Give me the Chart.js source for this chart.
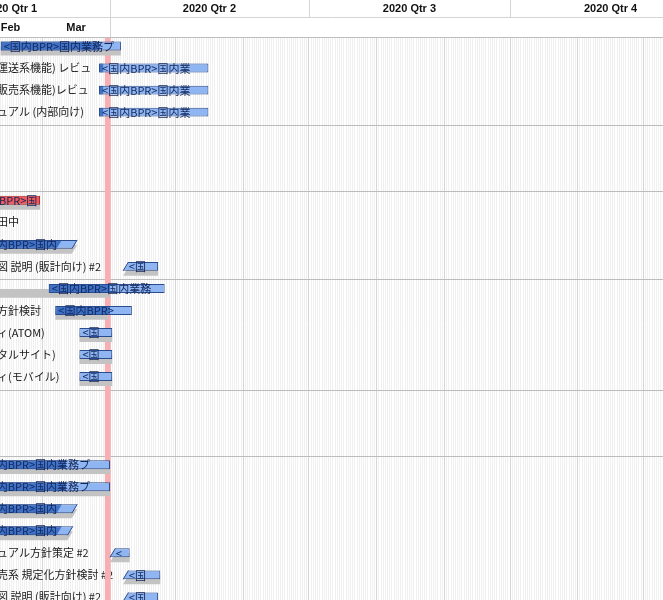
<!DOCTYPE html>
<html><head><meta charset="utf-8">
<script src="https://cdn.jsdelivr.net/npm/chart.js@4.4.1/dist/chart.umd.min.js"></script>
<style>html,body{margin:0;padding:0;overflow:hidden;background:#fff}#wrap{width:663px;height:616px;position:relative}</style>
</head><body><div id="wrap"><canvas id="c"></canvas></div>
<script>
// ---------- data ----------
const rowNames = [
  '', '運送系機能) レビュ', '販売系機能)レビュ', 'ュアル (内部向け)', '', '', '',
  '', '田中', '', '図 説明 (販計向け) #2',
  '', '方針検討', 'ィ(ATOM)', 'タルサイト)', 'ィ(モバイル)',
  '', '', '',
  '', '', '', '', 'ュアル方針策定 #2', '売系 規定化方針検討 #2', '図 説明 (販計向け) #2'
];
const taskStart = [
  '2020-02-11', '2020-03-27', '2020-03-27', '2020-03-27', null, null, null,
  '2020-01-27', null, '2020-01-31', '2020-04-07',
  '2020-03-04', '2020-03-07', '2020-03-18', '2020-03-18', '2020-03-18',
  null, null, null,
  '2020-01-31', '2020-01-31', '2020-01-31', '2020-01-31', '2020-04-01', '2020-04-07', '2020-04-07'
];
const taskEnd = [
  '2020-04-06', '2020-05-16', '2020-05-16', '2020-05-16', null, null, null,
  '2020-02-29', null, '2020-03-17', '2020-04-23',
  '2020-04-26', '2020-04-11', '2020-04-02', '2020-04-02', '2020-04-02',
  null, null, null,
  '2020-04-01', '2020-04-01', '2020-03-17', '2020-03-15', '2020-04-10', '2020-04-24', '2020-04-23'
];
const progressEnd = [
  '2020-03-27', '2020-03-29', '2020-03-29', '2020-03-29', null, null, null,
  null, null, '2020-03-10', null,
  '2020-04-01', '2020-04-01', null, null, null,
  null, null, null,
  '2020-03-12', '2020-03-12', '2020-03-10', '2020-03-10', null, null, null
];
const baseStart = [
  '2020-02-11', null, null, null, null, null, null,
  '2020-01-27', null, '2020-01-31', '2020-04-07',
  '2020-01-31', '2020-03-07', '2020-03-18', '2020-03-18', '2020-03-18',
  null, null, null,
  '2020-01-31', '2020-01-31', '2020-01-31', '2020-01-31', '2020-04-01', '2020-04-07', '2020-04-07'
];
const baseEnd = [
  '2020-04-06', null, null, null, null, null, null,
  '2020-02-29', null, '2020-03-17', '2020-04-23',
  '2020-04-01', '2020-03-31', '2020-04-02', '2020-04-02', '2020-04-02',
  null, null, null,
  '2020-04-01', '2020-04-01', '2020-03-17', '2020-03-15', '2020-04-10', '2020-04-24', '2020-04-23'
];
// 'end' = task continues after this bar, 'start' = task continued from before
const splitSide = [
  '', '', '', '', '', '', '',
  '', '', 'end', 'start',
  '', '', '', '', '',
  '', '', '',
  '', '', 'end', 'end', 'start', 'start', 'start'
];
const taskStatus = [
  'ok','ok','ok','ok','','','',
  'late','','ok','ok',
  'ok','ok','ok','ok','ok',
  '','','',
  'ok','ok','ok','ok','ok','ok','ok'
];
const barLabels = [
  '<国内BPR>国内業務プ', '<国内BPR>国内業', '<国内BPR>国内業', '<国内BPR>国内業', '', '', '',
  '<国内BPR>国', '', '<国内BPR>国内', '<国',
  '<国内BPR>国内業務', '<国内BPR>', '<国', '<国', '<国',
  '', '', '',
  '<国内BPR>国内業務プ', '<国内BPR>国内業務プ', '<国内BPR>国内', '<国内BPR>国内', '<', '<国', '<国'
];
const groupStartRows = [4, 7, 11, 16, 19];
const quarterLabels = ['2020 Qtr 1', '2020 Qtr 2', '2020 Qtr 3', '2020 Qtr 4'];
const quarterStarts = ['2020-01-01', '2020-04-01', '2020-07-01', '2020-10-01', '2021-01-01'];
const monthLabels = ['Feb', 'Mar'];
const monthStarts = ['2020-02-01', '2020-03-01', '2020-04-01'];
const todayDate = '2020-03-31';
const viewMin = 40.68, viewMax = 343.98; // days since 2020-01-01

// ---------- helpers ----------
const DAY0 = Date.UTC(2020, 0, 1);
function toDay(s) { const p = s.split('-').map(Number); return (Date.UTC(p[0], p[1] - 1, p[2]) - DAY0) / 864e5; }
function isMonthStart(d) { return new Date(DAY0 + d * 864e5).getUTCDate() === 1; }
const span = (a, b) => a.map((s, i) => (s && b[i]) ? [toDay(s), toDay(b[i])] : null);
const taskData = span(taskStart, taskEnd);
const progressData = span(taskStart, progressEnd);
const baseData = span(baseStart, baseEnd);
const dayTicks = [];
for (let d = Math.ceil(viewMin); d <= Math.floor(viewMax); d++) dayTicks.push(d);

const NAVY = '#2b4c8c';
const SLOPE = 0.6; // horizontal px per vertical px on split ends

function slantGeom(el) {
  const p = el.getProps(['x', 'base', 'y', 'height'], true);
  return { l: Math.min(p.x, p.base), r: Math.max(p.x, p.base), t: p.y - p.height / 2, b: p.y + p.height / 2, h: p.height, y: p.y };
}
const slantPlugin = {
  id: 'slant',
  beforeDatasetDraw(chart, args) {
    const {ctx, chartArea: a} = chart;
    const data = chart.data.datasets[args.index].data;
    ctx.save();
    ctx.beginPath();
    ctx.rect(a.left - 50, a.top - 50, a.right - a.left + 100, a.bottom - a.top + 100);
    args.meta.data.forEach((el, i) => {
      if (!data[i] || !splitSide[i]) return;
      const g = slantGeom(el); const t = g.t - 1, b = g.b + 1;
      if (splitSide[i] === 'end') {
        const xt = g.r + SLOPE * (g.t - t), xb = g.r - SLOPE * (b - g.t);
        ctx.moveTo(xt, t); ctx.lineTo(g.r + 30, t); ctx.lineTo(g.r + 30, b); ctx.lineTo(xb, b); ctx.closePath();
      } else {
        const xt = g.l + SLOPE * (b - t) - SLOPE * (b - g.b), xb = g.l - SLOPE * (b - g.b);
        ctx.moveTo(g.l - 30, t); ctx.lineTo(xt, t); ctx.lineTo(xb, b); ctx.lineTo(g.l - 30, b); ctx.closePath();
      }
    });
    ctx.clip('evenodd');
  },
  afterDatasetDraw(chart, args) {
    const {ctx} = chart;
    ctx.restore();
    if (args.index !== 1) return;
    const data = chart.data.datasets[1].data;
    ctx.save(); ctx.strokeStyle = NAVY; ctx.lineWidth = 1;
    args.meta.data.forEach((el, i) => {
      if (!data[i] || !splitSide[i]) return;
      const g = slantGeom(el);
      ctx.beginPath();
      if (splitSide[i] === 'end') { ctx.moveTo(g.r, g.t); ctx.lineTo(g.r - SLOPE * g.h, g.b); }
      else { ctx.moveTo(g.l, g.b); ctx.lineTo(g.l + SLOPE * g.h, g.t); }
      ctx.stroke();
    });
    ctx.restore();
  }
};
const todayPlugin = {
  id: 'today',
  beforeDatasetsDraw(chart) {
    const {ctx, chartArea: a, scales: {x}} = chart;
    const px = x.getPixelForValue(toDay(todayDate));
    ctx.save(); ctx.fillStyle = '#f6b0b4';
    ctx.fillRect(px - 3, a.top, 6, a.bottom - a.top); ctx.restore();
  }
};
const barTextPlugin = {
  id: 'barText',
  afterDatasetsDraw(chart) {
    const {ctx, chartArea: a} = chart;
    const meta = chart.getDatasetMeta(1);
    ctx.save();
    ctx.font = '11px "Noto Sans CJK JP"'; ctx.fillStyle = '#13275a';
    ctx.textBaseline = 'middle'; ctx.textAlign = 'left';
    meta.data.forEach((el, i) => {
      const t = barLabels[i]; if (!t || !taskData[i]) return;
      const g = slantGeom(el);
      const cl = Math.max(g.l, a.left), cr = Math.min(g.r, a.right);
      if (cr <= cl) return;
      const lead = splitSide[i] === 'start' ? SLOPE * g.h * 0.5 : 0;
      ctx.save(); ctx.beginPath(); ctx.rect(cl, g.y - g.h, cr - cl - 1, g.h * 2); ctx.clip();
      ctx.fillText(t, g.l + 3 + lead, g.y + 0.5); ctx.restore();
    });
    ctx.restore();
  }
};
const headerPlugin = {
  id: 'header',
  afterDraw(chart) {
    const {ctx, chartArea: a, scales: {x}, width} = chart;
    const top = a.top, mid = 17.5;
    ctx.save();
    ctx.fillStyle = '#fff'; ctx.fillRect(0, 0, width, top);
    ctx.strokeStyle = '#d4d4d4'; ctx.lineWidth = 1;
    ctx.beginPath(); ctx.moveTo(0, mid); ctx.lineTo(width, mid); ctx.stroke();
    quarterStarts.forEach(q => { const px = Math.round(x.getPixelForValue(toDay(q))) + 0.5;
      ctx.beginPath(); ctx.moveTo(px, 0); ctx.lineTo(px, mid); ctx.stroke(); });
    const mEnd = Math.round(x.getPixelForValue(toDay(monthStarts[monthStarts.length - 1]))) + 0.5;
    ctx.beginPath(); ctx.moveTo(mEnd, mid); ctx.lineTo(mEnd, top); ctx.stroke();
    ctx.strokeStyle = '#bdbdbd';
    ctx.beginPath(); ctx.moveTo(0, Math.round(top) - 0.5); ctx.lineTo(width, Math.round(top) - 0.5); ctx.stroke();
    ctx.fillStyle = '#111'; ctx.font = 'bold 11px "Liberation Sans", Arial, sans-serif';
    ctx.textAlign = 'center'; ctx.textBaseline = 'middle';
    quarterLabels.forEach((t, i) => {
      const c = (x.getPixelForValue(toDay(quarterStarts[i])) + x.getPixelForValue(toDay(quarterStarts[i + 1]))) / 2;
      ctx.fillText(t, c, 9);
    });
    monthLabels.forEach((t, i) => {
      const c = (x.getPixelForValue(toDay(monthStarts[i])) + x.getPixelForValue(toDay(monthStarts[i + 1]))) / 2;
      ctx.fillText(t, c, 27.5);
    });
    ctx.restore();
  }
};

new Chart(document.getElementById('c'), {
  type: 'bar',
  data: {
    labels: rowNames,
    datasets: [
      { label: 'progress', stack: 'a', data: progressData, backgroundColor: '#3f72c7',
        borderColor: NAVY, borderWidth: {top: 1, bottom: 1, left: 1, right: 0}, borderSkipped: false },
      { label: 'task', stack: 'a', data: taskData,
        backgroundColor: c => taskStatus[c.dataIndex] === 'late' ? '#f05a5c' : '#8fb6f3',
        borderColor: c => taskStatus[c.dataIndex] === 'late' ? '#a32626' : NAVY,
        borderWidth: 1, borderSkipped: false },
      { label: 'baseline', stack: 'b', data: baseData, backgroundColor: '#c3c3c3', borderWidth: 0 }
    ]
  },
  options: {
    indexAxis: 'y', responsive: true, maintainAspectRatio: false, animation: false,
    datasets: { bar: { categoryPercentage: 0.45, barPercentage: 1.8 } },
    layout: { padding: { top: 37.5, left: 0, right: 0, bottom: 0 } },
    plugins: { legend: { display: false }, tooltip: { enabled: false } },
    scales: {
      x: { type: 'linear', position: 'top', min: viewMin, max: viewMax, stacked: false,
        afterBuildTicks: s => { s.ticks = dayTicks.map(v => ({value: v})); },
        grid: { drawTicks: false, color: c => (c.tick && isMonthStart(c.tick.value)) ? '#d6d6d6' : '#f0f0f0' },
        border: { display: false }, ticks: { display: false } },
      y: { type: 'category', stacked: true, offset: true,
        grid: { drawTicks: false, color: c => groupStartRows.includes(c.index) ? '#bcbcbc' : 'rgba(0,0,0,0)' },
        border: { display: false },
        ticks: { mirror: true, padding: -1, autoSkip: false, color: '#1a1a1a', labelOffset: -2.5,
          font: { family: '"Noto Sans CJK JP"', size: 11 } } }
    }
  },
  plugins: [todayPlugin, slantPlugin, barTextPlugin, headerPlugin]
});
</script></body></html>
